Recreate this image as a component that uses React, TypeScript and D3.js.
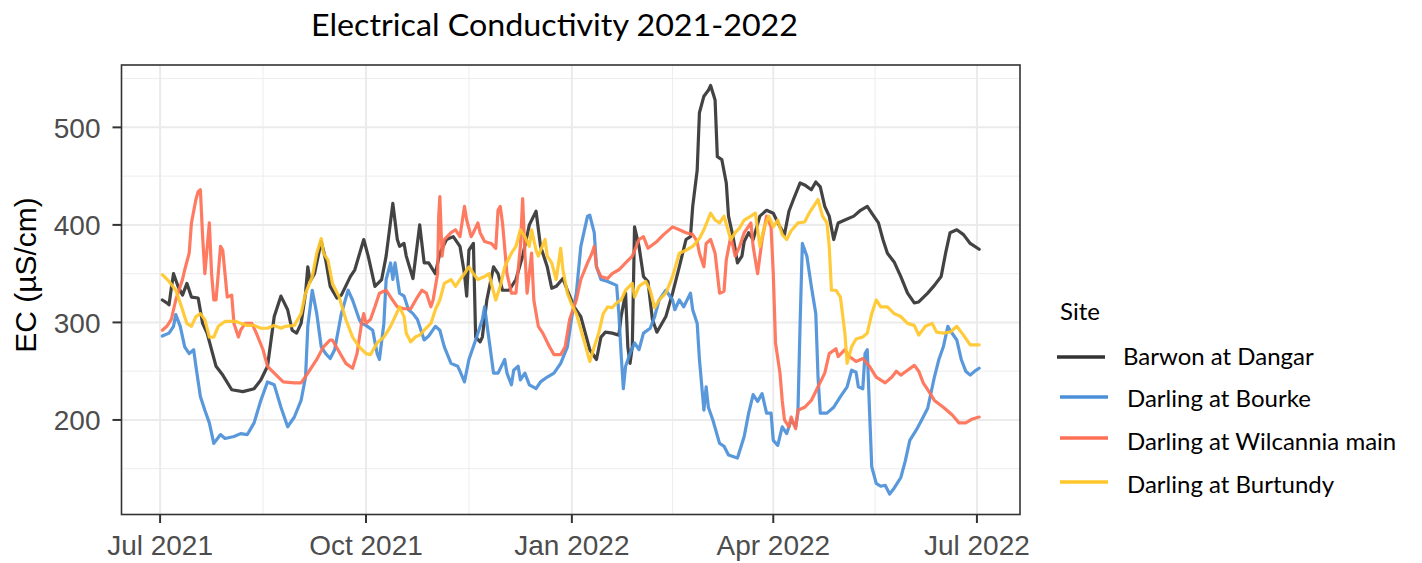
import React from "react";
import * as d3 from "d3";

// Daily electrical conductivity (µS/cm); each sample is [days since 1 Jul 2021, EC]
const START = new Date(2021, 6, 1);

const barwonDangar: [number, number][] = [
  [1,323],[3,320],[4,318],[5,335],[6,350],[8,337],[10,328],[12,340],[14,326],[17,325],[19,299],[21,289],[25,255],[28,246],[32,231],[37,229],[42,232],[45,241],[48,255],[51,306],[54,327],[57,313],[59,292],[61,289],[63,299],[65,330],[66,357],[67,342],[69,350],[72,383],[74,364],[76,337],[79,325],[81,328],[85,347],[87,354],[91,385],[93,368],[96,337],[99,344],[101,368],[104,422],[106,385],[107,378],[109,381],[110,368],[113,345],[116,400],[118,361],[120,361],[123,350],[125,371],[128,385],[131,388],[134,378],[136,350],[137,327],[138,374],[140,381],[141,285],[143,280],[144,285],[146,323],[149,357],[151,350],[153,333],[156,333],[159,344],[162,368],[165,400],[168,414],[170,378],[173,357],[175,335],[177,337],[180,345],[182,333],[185,316],[188,306],[192,272],[195,262],[197,285],[199,290],[202,289],[205,287],[206,306],[208,330],[209,275],[210,258],[211,275],[212,398],[214,378],[216,347],[218,342],[220,303],[222,290],[226,306],[229,330],[232,357],[235,385],[237,388],[238,419],[240,456],[241,515],[243,532],[245,538],[246,543],[248,528],[249,470],[251,467],[253,443],[254,409],[256,388],[258,361],[260,368],[261,383],[263,392],[265,385],[268,409],[271,415],[274,412],[277,398],[279,390],[281,414],[283,426],[286,443],[288,441],[291,436],[293,444],[295,439],[297,419],[299,409],[301,385],[303,402],[306,405],[310,409],[313,415],[316,419],[318,412],[321,402],[323,385],[325,371],[328,362],[331,347],[334,330],[337,320],[339,321],[343,330],[346,338],[349,347],[351,371],[353,392],[356,395],[359,390],[362,381],[366,375]
];

const darlingBourke: [number, number][] = [
  [1,286],[4,289],[6,296],[7,308],[9,296],[11,275],[13,268],[15,272],[16,255],[18,224],[20,210],[22,197],[24,176],[27,185],[29,181],[33,183],[36,186],[39,185],[42,197],[45,220],[48,239],[51,236],[54,213],[57,193],[60,203],[63,220],[65,244],[66,296],[68,333],[70,309],[72,275],[74,268],[76,263],[78,272],[81,309],[84,333],[86,323],[89,303],[90,299],[92,297],[95,292],[97,268],[98,262],[100,299],[101,344],[103,361],[104,344],[105,361],[107,330],[109,327],[111,313],[113,309],[115,303],[118,282],[120,286],[123,296],[125,292],[127,275],[130,258],[133,255],[134,250],[136,239],[138,262],[141,282],[144,303],[145,316],[147,282],[149,248],[151,248],[154,262],[155,248],[157,236],[158,251],[160,255],[161,241],[163,248],[165,236],[168,232],[170,239],[173,244],[176,248],[179,258],[182,275],[184,306],[186,330],[188,378],[191,409],[192,410],[194,392],[195,357],[197,344],[200,342],[204,338],[205,309],[206,268],[207,232],[208,255],[210,268],[212,279],[214,272],[216,289],[219,294],[221,306],[223,323],[226,333],[229,323],[230,313],[232,323],[234,316],[237,330],[238,313],[240,299],[241,262],[243,210],[244,234],[245,213],[247,200],[250,176],[252,173],[254,164],[258,161],[261,183],[263,207],[265,226],[267,219],[269,227],[271,207],[273,207],[274,179],[276,174],[278,193],[280,186],[282,200],[284,193],[285,207],[286,300],[287,381],[289,368],[291,337],[293,309],[294,244],[295,207],[298,207],[301,213],[304,224],[307,234],[309,251],[311,249],[312,234],[314,232],[315,268],[316,272],[317,210],[318,152],[320,135],[322,132],[324,133],[326,124],[328,130],[331,141],[333,158],[335,179],[338,190],[341,203],[343,212],[346,244],[348,262],[350,275],[352,296],[353,292],[356,282],[358,262],[360,250],[362,246],[364,250],[366,253]
];

const darlingWilcannia: [number, number][] = [
  [1,292],[3,296],[5,303],[7,323],[10,344],[11,354],[13,371],[14,402],[16,426],[17,434],[18,436],[19,388],[20,350],[22,402],[23,350],[24,323],[25,323],[27,378],[28,374],[30,326],[32,328],[33,299],[35,285],[36,292],[38,299],[41,299],[43,289],[46,272],[48,255],[51,248],[55,239],[60,238],[63,238],[66,248],[70,262],[73,275],[76,282],[77,282],[80,270],[83,258],[86,253],[88,268],[90,299],[91,309],[92,299],[94,303],[96,316],[98,330],[101,333],[103,326],[106,316],[109,314],[112,314],[115,326],[117,333],[119,330],[121,316],[122,323],[124,350],[124.5,409],[125,429],[126,368],[127,385],[130,392],[132,395],[134,388],[136,419],[137,405],[139,388],[140,392],[142,402],[143,392],[145,383],[148,381],[150,376],[151,415],[152,419],[153,402],[155,350],[157,330],[159,330],[161,378],[162,427],[163,371],[164,330],[166,371],[167,323],[169,296],[171,289],[174,275],[176,267],[179,267],[181,275],[183,303],[186,323],[188,344],[191,361],[193,371],[194,378],[195,357],[197,347],[200,345],[202,350],[205,354],[208,361],[211,368],[214,385],[216,388],[218,376],[222,383],[225,390],[229,398],[232,395],[235,392],[238,390],[240,383],[241,371],[243,357],[244,381],[246,385],[248,371],[250,330],[252,332],[253,364],[255,388],[257,368],[259,378],[261,392],[264,402],[265,378],[267,350],[269,385],[271,409],[273,398],[274,350],[275,279],[277,248],[278,220],[279,200],[281,193],[282,203],[284,191],[285,210],[288,213],[291,220],[294,234],[297,248],[299,268],[302,273],[303,265],[306,272],[308,265],[311,260],[314,263],[317,255],[320,244],[324,238],[327,244],[329,250],[331,246],[334,251],[337,256],[339,250],[341,238],[343,231],[346,220],[350,213],[354,205],[357,197],[360,197],[363,201],[366,203]
];

const darlingBurtundy: [number, number][] = [
  [1,349],[4,342],[7,333],[9,320],[12,299],[14,296],[16,306],[18,309],[20,303],[22,285],[24,285],[26,296],[29,301],[34,301],[36,299],[39,297],[42,297],[45,294],[48,294],[51,297],[54,294],[56,296],[60,297],[63,309],[65,330],[68,347],[70,371],[72,386],[73,371],[75,364],[77,340],[80,326],[83,303],[86,285],[89,275],[92,268],[94,267],[97,279],[100,285],[103,296],[105,306],[107,316],[109,306],[110,289],[112,280],[114,285],[116,287],[118,292],[121,299],[123,313],[125,323],[127,340],[130,344],[132,337],[134,344],[136,350],[138,357],[140,350],[142,344],[145,347],[147,350],[148,340],[150,323],[152,337],[154,357],[157,371],[159,378],[161,395],[163,388],[165,378],[166,395],[168,374],[169,368],[172,385],[173,368],[175,361],[177,344],[179,376],[180,354],[182,330],[184,318],[186,309],[189,285],[192,260],[194,275],[196,289],[198,309],[200,316],[202,315],[204,320],[206,323],[208,333],[211,340],[212,326],[214,337],[217,342],[219,333],[221,315],[223,323],[226,330],[229,347],[232,371],[235,374],[238,378],[241,386],[243,395],[246,412],[248,405],[250,402],[252,409],[255,385],[257,392],[259,397],[261,405],[264,409],[266,412],[268,378],[270,398],[272,409],[274,398],[276,405],[278,390],[280,385],[282,394],[285,402],[288,403],[290,412],[292,419],[294,426],[296,409],[298,402],[299,378],[300,333],[302,333],[304,326],[306,289],[307,258],[309,275],[311,283],[314,285],[316,289],[318,309],[320,323],[322,316],[325,316],[328,309],[331,306],[334,299],[337,297],[339,287],[342,296],[345,299],[347,290],[350,289],[353,290],[356,296],[359,287],[362,277],[366,277]
];

const SITES = ["Barwon at Dangar", "Darling at Bourke", "Darling at Wilcannia main", "Darling at Burtundy"];
const SITE_VALUES = [barwonDangar, darlingBourke, darlingWilcannia, darlingBurtundy];
const SITE_COLORS = ["#333333", "#4a8fd8", "#fe7055", "#ffc72a"];

const X_TICKS = ["2021-07-01", "2021-10-01", "2022-01-01", "2022-04-01", "2022-07-01"];
const Y_TICKS = [200, 300, 400, 500];

const TITLE = "Electrical Conductivity 2021-2022";
const Y_TITLE = "EC (µS/cm)";
const LEGEND_TITLE = "Site";

const W = 1422;
const H = 563;
const panel = { left: 121.5, right: 1020, top: 65, bottom: 514.5 };

const parseDay = d3.timeParse("%Y-%m-%d");
const fmtTick = d3.timeFormat("%b %Y");
const dayToDate = (d: number) => new Date(START.getTime() + d * 86400000);

function expand([a, b]: [number, number], f = 0.05): [number, number] {
  const e = (b - a) * f;
  return [a - e, b + e];
}

export default function App() {
  const allDays = SITE_VALUES.flat().map((p) => p[0]);
  const allVals = SITE_VALUES.flat().map((p) => p[1]);
  const [d0, d1] = expand([d3.min(allDays)!, d3.max(allDays)!]);
  const x = d3.scaleTime().domain([dayToDate(d0), dayToDate(d1)]).range([panel.left, panel.right]);
  const y = d3.scaleLinear().domain(expand([d3.min(allVals)!, d3.max(allVals)!])).range([panel.bottom, panel.top]);

  const line = d3
    .line<[number, number]>()
    .x((p) => x(dayToDate(p[0])))
    .y((p) => y(p[1]))
    .curve(d3.curveLinear);

  const xMajor = X_TICKS.map((s) => parseDay(s)!);
  const xMajorPx = xMajor.map((d) => x(d));
  const xMinorPx = xMajorPx.slice(1).map((p, i) => (p + xMajorPx[i]) / 2);
  const yStep = Y_TICKS[1] - Y_TICKS[0];
  const yMinor = d3.range(Y_TICKS[0] - yStep / 2, Y_TICKS[Y_TICKS.length - 1] + yStep, yStep)
    .filter((v) => y(v) > panel.top && y(v) < panel.bottom);

  const tickFont = "'Liberation Sans', Arial, sans-serif";
  const textFont = "Lato, 'Noto Sans', sans-serif";

  const legendRows = [356, 398.5, 441, 484];
  const keyRows = [357, 397, 438, 482];

  return (
    <svg width={W} height={H} style={{ position: "absolute", left: 0, top: 0, display: "block", background: "#fff" }}>
      <rect x={0} y={0} width={W} height={H} fill="#fff" />
      <text
        x={554.5}
        y={36}
        textAnchor="middle"
        fontFamily={textFont}
        fontSize={31}
        textLength={487}
        lengthAdjust="spacingAndGlyphs"
        fill="#000"
      >
        {TITLE}
      </text>

      {/* grid */}
      <g>
        {yMinor.map((v) => (
          <line key={"ym" + v} x1={panel.left} x2={panel.right} y1={y(v)} y2={y(v)} stroke="#ededed" strokeWidth={1} />
        ))}
        {xMinorPx.map((p, i) => (
          <line key={"xm" + i} x1={p} x2={p} y1={panel.top} y2={panel.bottom} stroke="#ededed" strokeWidth={1} />
        ))}
        {Y_TICKS.map((v) => (
          <line key={"yM" + v} x1={panel.left} x2={panel.right} y1={y(v)} y2={y(v)} stroke="#ebebeb" strokeWidth={2} />
        ))}
        {xMajorPx.map((p, i) => (
          <line key={"xM" + i} x1={p} x2={p} y1={panel.top} y2={panel.bottom} stroke="#ebebeb" strokeWidth={2} />
        ))}
      </g>

      {/* series */}
      <g fill="none" strokeLinejoin="round" strokeLinecap="round">
        {SITE_VALUES.map((s, i) => (
          <path key={SITES[i]} d={line(s)!} stroke={SITE_COLORS[i]} strokeWidth={3.2} strokeOpacity={0.92} />
        ))}
      </g>

      {/* panel border */}
      <rect
        x={panel.left}
        y={panel.top}
        width={panel.right - panel.left}
        height={panel.bottom - panel.top}
        fill="none"
        stroke="#333333"
        strokeWidth={1.6}
      />

      {/* y axis */}
      <g>
        {Y_TICKS.map((v) => (
          <g key={"yt" + v}>
            <line x1={panel.left - 9} x2={panel.left} y1={y(v)} y2={y(v)} stroke="#333333" strokeWidth={2} />
            <text x={panel.left - 21} y={y(v) + 10.5} textAnchor="end" fontFamily={tickFont} fontSize={28} fill="#4d4d4d">
              {v}
            </text>
          </g>
        ))}
        <text
          transform={`translate(36, 275) rotate(-90)`}
          textAnchor="middle"
          fontFamily={tickFont}
          fontSize={30}
          fill="#000"
        >
          {Y_TITLE}
        </text>
      </g>

      {/* x axis */}
      <g>
        {xMajor.map((d, i) => (
          <g key={"xt" + i}>
            <line x1={x(d)} x2={x(d)} y1={panel.bottom} y2={panel.bottom + 8.5} stroke="#333333" strokeWidth={2} />
            <text x={x(d)} y={555} textAnchor="middle" fontFamily={tickFont} fontSize={28} fill="#4d4d4d">
              {fmtTick(d)}
            </text>
          </g>
        ))}
      </g>

      {/* legend */}
      <g fontFamily={textFont}>
        <text x={1060} y={320} fontSize={24} fill="#000">
          {LEGEND_TITLE}
        </text>
        {SITES.map((s, i) => (
          <g key={"lg" + s}>
            <line
              x1={1057 + (i > 0 ? 3 : 0)}
              x2={1105 + (i > 0 ? 3 : 0)}
              y1={keyRows[i]}
              y2={keyRows[i]}
              stroke={SITE_COLORS[i]}
              strokeWidth={3.6}
            />
            <text x={1123 + (i > 0 ? 4 : 0)} y={legendRows[i] + 8.5} fontSize={24} fill="#000">
              {s}
            </text>
          </g>
        ))}
      </g>
    </svg>
  );
}
